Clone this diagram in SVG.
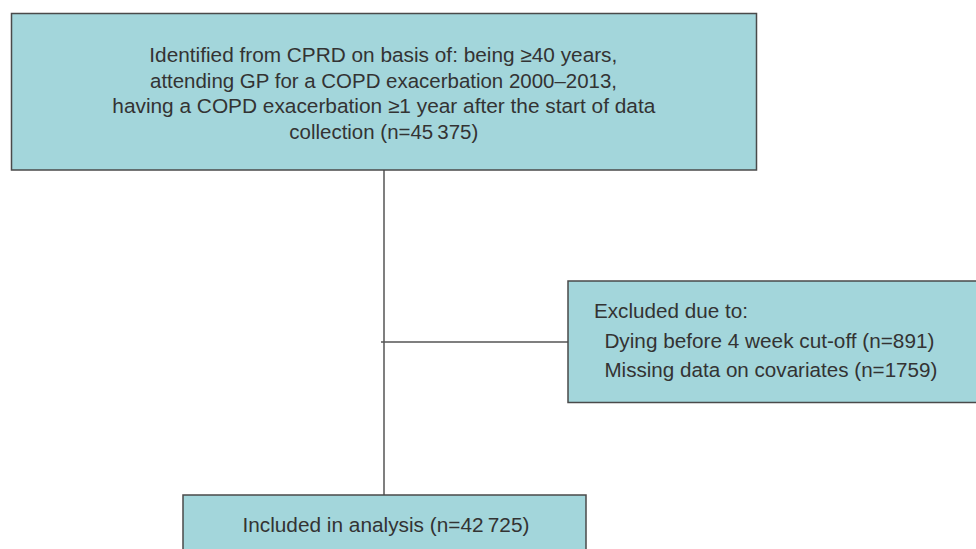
<svg xmlns="http://www.w3.org/2000/svg" width="976" height="549" viewBox="0 0 976 549">
<style>
.box{fill:#a3d6db;stroke:#4a4a4a;stroke-width:1.5}
.t{font-family:"Liberation Sans",Arial,sans-serif;font-size:20.5px;fill:#333;}
.ln{stroke:#555;stroke-width:1.5;fill:none}
</style>
<rect width="976" height="549" fill="#fff"/>
<g id="connectors">
<line class="ln" x1="384" y1="170" x2="384" y2="495"/>
<line class="ln" x1="381" y1="342" x2="568" y2="342"/>
</g>
<g id="node-identified">
<rect class="box" x="11.5" y="13.5" width="745" height="156.5"/>
<text class="t" x="149.3" y="62.3" textLength="468" lengthAdjust="spacingAndGlyphs">Identified from CPRD on basis of: being ≥40 years,</text>
<text class="t" x="150" y="88" textLength="467" lengthAdjust="spacingAndGlyphs">attending GP for a COPD exacerbation 2000–2013,</text>
<text class="t" x="112.3" y="113.3" textLength="543" lengthAdjust="spacingAndGlyphs">having a COPD exacerbation ≥1 year after the start of data</text>
<text class="t" x="289.3" y="138.5" textLength="189" lengthAdjust="spacingAndGlyphs">collection (n=45&#8201;375)</text>
</g>
<g id="node-excluded">
<rect class="box" x="568" y="281" width="420" height="121.5"/>
<text class="t" x="594" y="318" textLength="154" lengthAdjust="spacingAndGlyphs">Excluded due to:</text>
<text class="t" x="604.4" y="347.8" textLength="330" lengthAdjust="spacingAndGlyphs">Dying before 4 week cut-off (n=891)</text>
<text class="t" x="604.4" y="377" textLength="333" lengthAdjust="spacingAndGlyphs">Missing data on covariates (n=1759)</text>
</g>
<g id="node-included">
<rect class="box" x="183" y="495" width="403" height="70"/>
<text class="t" x="242.4" y="532.4" textLength="287" lengthAdjust="spacingAndGlyphs">Included in analysis (n=42&#8201;725)</text>
</g>
</svg>
